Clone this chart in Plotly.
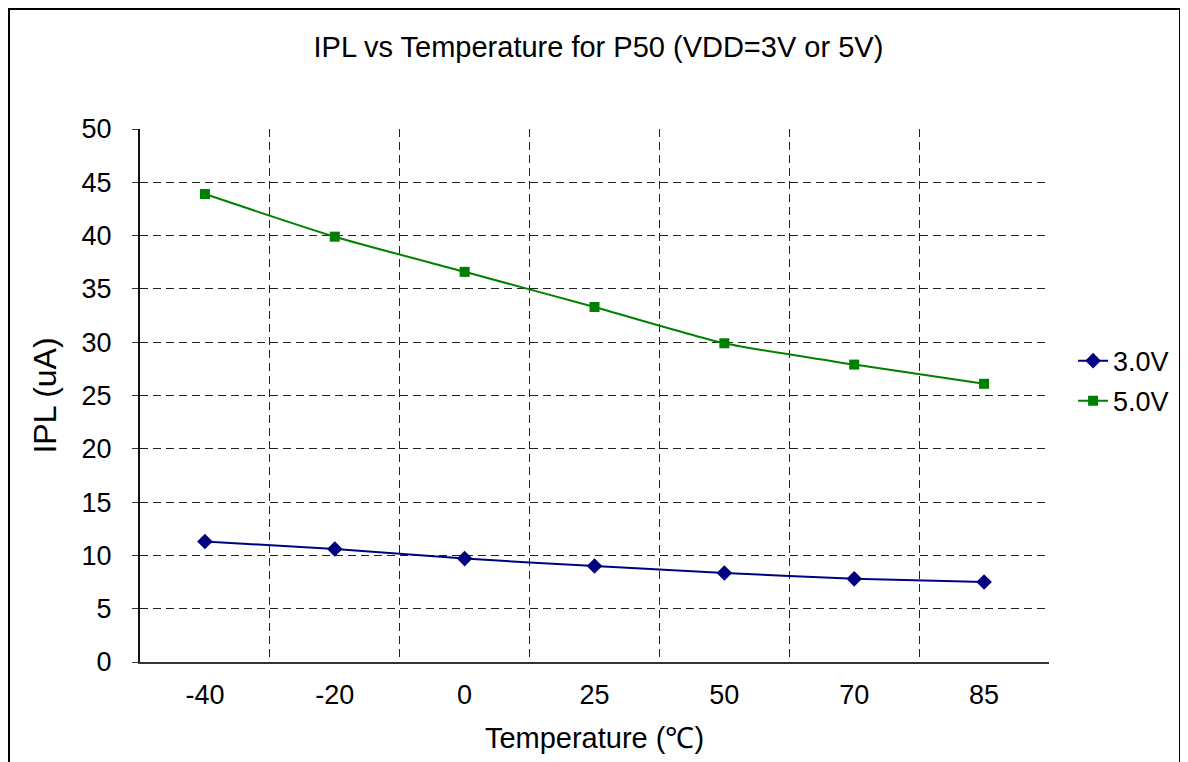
import plotly.graph_objs as go

temps = ["-40", "-20", "0", "25", "50", "70", "85"]
ipl_3v = [11.3, 10.6, 9.7, 9.0, 8.35, 7.8, 7.5]
ipl_5v = [43.9, 39.9, 36.6, 33.3, 29.9, 27.9, 26.1]
y_ticks = [0, 5, 10, 15, 20, 25, 30, 35, 40, 45, 50]

font_family = "Liberation Sans, Arial, sans-serif"

plot_data = [
    go.Scatter(
        x=temps,
        y=ipl_3v,
        name="3.0V",
        legendgroup="v3",
        mode="lines+markers",
        line=dict(color="#000080", width=2, shape="spline", smoothing=0.6),
        marker=dict(symbol="diamond", size=12, color="#000080"),
    ),
    go.Scatter(
        x=temps,
        y=ipl_5v,
        name="5.0V",
        legendgroup="v5",
        mode="lines+markers",
        line=dict(color="#008000", width=2, shape="spline", smoothing=0.6),
        marker=dict(symbol="square", size=10, color="#008000"),
    ),
]

layout = go.Layout(
    width=1188,
    height=762,
    paper_bgcolor="white",
    plot_bgcolor="white",
    font=dict(family=font_family, size=27, color="black"),
    title=dict(
        text="IPL vs Temperature for P50 (VDD=3V or 5V)",
        x=0.497,
        xanchor="center",
        y=0.949,
        yanchor="middle",
        font=dict(size=29),
    ),
    # page is offset by 8px body margin
    margin=dict(l=132, r=147, t=121, b=108),
    xaxis=dict(
        type="category",
        range=[-0.5, 6.5],
        tickson="boundaries",
        showgrid=True,
        gridcolor="#222222",
        griddash="8px,5px",
        gridwidth=1,
        showline=True,
        linecolor="#333333",
        linewidth=2,
        ticks="",
        ticklabelstandoff=8,
        title=dict(
            text="Temperature (℃)",
            standoff=18,
            font=dict(family=font_family, size=29),
        ),
        zeroline=False,
    ),
    yaxis=dict(
        range=[0, 50],
        tickvals=y_ticks,
        showgrid=True,
        gridcolor="#222222",
        griddash="8px,5px",
        gridwidth=1,
        showline=True,
        linecolor="#111111",
        linewidth=2,
        ticks="outside",
        ticklen=6,
        tickcolor="#333333",
        ticklabelstandoff=15,
        title=dict(text="IPL (uA)", standoff=15),
        zeroline=False,
    ),
    legend=dict(
        x=1.0265,
        xanchor="left",
        y=0.527,
        yanchor="middle",
        bgcolor="rgba(0,0,0,0)",
        font=dict(size=27),
        tracegroupgap=2,
    ),
    shapes=[
        # outer chart border, drawn in plot-area paper units
        dict(
            type="rect",
            xref="paper",
            yref="paper",
            x0=-131 / 909,
            x1=1040 / 909,
            y0=-0.3,
            y1=653 / 533,
            line=dict(color="black", width=2),
            fillcolor="rgba(0,0,0,0)",
            layer="below",
        ),
    ],
    showlegend=True,
)

fig = go.Figure(data=plot_data, layout=layout)
fig.write_html("out.html")
